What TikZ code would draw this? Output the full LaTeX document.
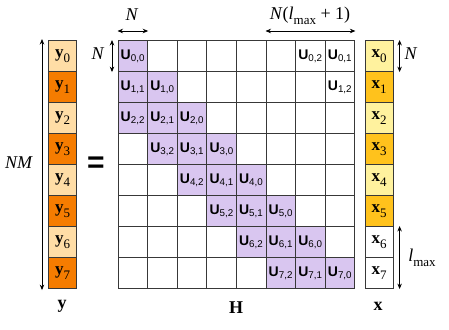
\documentclass[tikz,border=0pt]{standalone}
\usepackage{fontspec}
\setmainfont{Liberation Serif}
\newfontfamily\usf{Liberation Sans}
\usetikzlibrary{arrows.meta}
\definecolor{ylight}{HTML}{FFDDA6}
\definecolor{ydark}{HTML}{F57C00}
\definecolor{xlight}{HTML}{FFF29E}
\definecolor{xdark}{HTML}{FFC21C}
\definecolor{upurple}{HTML}{D9C6F0}
\definecolor{gridc}{HTML}{383838}
\newcommand{\vsub}[2]{\textbf{#1}\raisebox{-0.28em}{\fontsize{13}{13}\selectfont #2}}
\newcommand{\lmx}{\textit{l}\raisebox{-0.3em}{\fontsize{13}{13}\selectfont max}}
\begin{document}
\begin{tikzpicture}[x=1pt,y=-1pt,
  cell/.style={draw=gridc,line width=1.1pt,minimum width=29.6pt,minimum height=31pt,inner sep=0pt,anchor=north west},
  vcell/.style={draw=gridc,line width=1.1pt,minimum width=28pt,minimum height=31pt,inner sep=0pt,anchor=north west,font=\fontsize{17}{19}\selectfont},
  dim/.style={{Stealth[length=5.5pt,width=4.5pt]}-{Stealth[length=5.5pt,width=4.5pt]},line width=0.8pt},
  lab/.style={font=\fontsize{18}{20}\selectfont,inner sep=0pt},
  utext/.style={font=\usf\fontsize{14}{16}\selectfont}]
\useasboundingbox (0,0) rectangle (449,329);
% matrix H
\foreach \i in {0,...,7}{
  \foreach \j in {0,...,7}{
    \pgfmathtruncatemacro\kk{mod(\i-\j+8,8)}
    \ifnum\kk<3
      \ifnum\i<\j \def\fillc{white}\else\def\fillc{upurple}\fi
      \node[cell,utext,fill=\fillc] (h-\i-\j) at ({117.5+29.6*\j},{40+31*\i}) {\textbf{U}\textsubscript{\i,\kk}};
    \else
      \node[cell] (h-\i-\j) at ({117.5+29.6*\j},{40+31*\i}) {};
    \fi
  }
}
% vector y
\foreach \i in {0,...,7}{
  \pgfmathtruncatemacro\parit{mod(\i,2)}
  \ifnum\parit=0 \def\fillc{ylight}\else\def\fillc{ydark}\fi
  \node[vcell,fill=\fillc] (y-\i) at (48,{40+31*\i}) {\vsub{y}{\i}};
}
% vector x
\foreach \i in {0,...,7}{
  \pgfmathtruncatemacro\parit{mod(\i,2)}
  \ifnum\i>5 \def\fillc{white}\else
    \ifnum\parit=0 \def\fillc{xlight}\else\def\fillc{xdark}\fi
  \fi
  \node[vcell,fill=\fillc] (x-\i) at (364.5,{40+31*\i}) {\vsub{x}{\i}};
}
% equals sign
\node[font=\usf\bfseries\fontsize{30}{32}\selectfont,inner sep=0pt] (eq) at (96,165) {=};
% NM arrow
\coordinate (nmT) at ([xshift=-6pt,yshift=1pt]y-0.north west);
\coordinate (nmB) at ([xshift=-6pt,yshift=-1pt]y-7.south west);
\draw[dim] (nmT) -- (nmB);
\node[lab] (nm) at (19,163) {\textit{NM}};
% N over first column
\coordinate (nA) at ([yshift=9pt]h-0-0.north west);
\coordinate (nB) at ([yshift=9pt]h-0-0.north east);
\draw[dim] (nA) -- (nB);
\node[lab] (ntop) at (132,15) {\textit{N}};
% N left of first row
\coordinate (nC) at ([xshift=-5.5pt]h-0-0.north west);
\coordinate (nD) at ([xshift=-5.5pt]h-0-0.south west);
\draw[dim] (nC) -- (nD);
\node[lab] (nleft) at (98,54) {\textit{N}};
% N(lmax+1)
\coordinate (nE) at ([yshift=9pt]h-0-5.north west);
\coordinate (nF) at ([yshift=9pt]h-0-7.north east);
\draw[dim] (nE) -- (nF);
\node[lab] (nl) at (310,16) {\textit{N}(\lmx\ + 1)};
% N right of x0
\coordinate (nG) at ([xshift=6pt]x-0.north east);
\coordinate (nH) at ([xshift=6pt]x-0.south east);
\draw[dim] (nG) -- (nH);
\node[lab] (nright) at (411,54) {\textit{N}};
% lmax
\coordinate (nI) at ([xshift=6pt]x-6.north east);
\coordinate (nJ) at ([xshift=6pt]x-7.south east);
\draw[dim] (nI) -- (nJ);
\node[lab] (lm) at (422,258) {\lmx};
% bottom labels
\node[lab] (ylab) at (62,306) {\textbf{y}};
\node[lab] (hlab) at (236,308) {\textbf{H}};
\node[lab] (xlab) at (378,306) {\textbf{x}};
\end{tikzpicture}
\end{document}
